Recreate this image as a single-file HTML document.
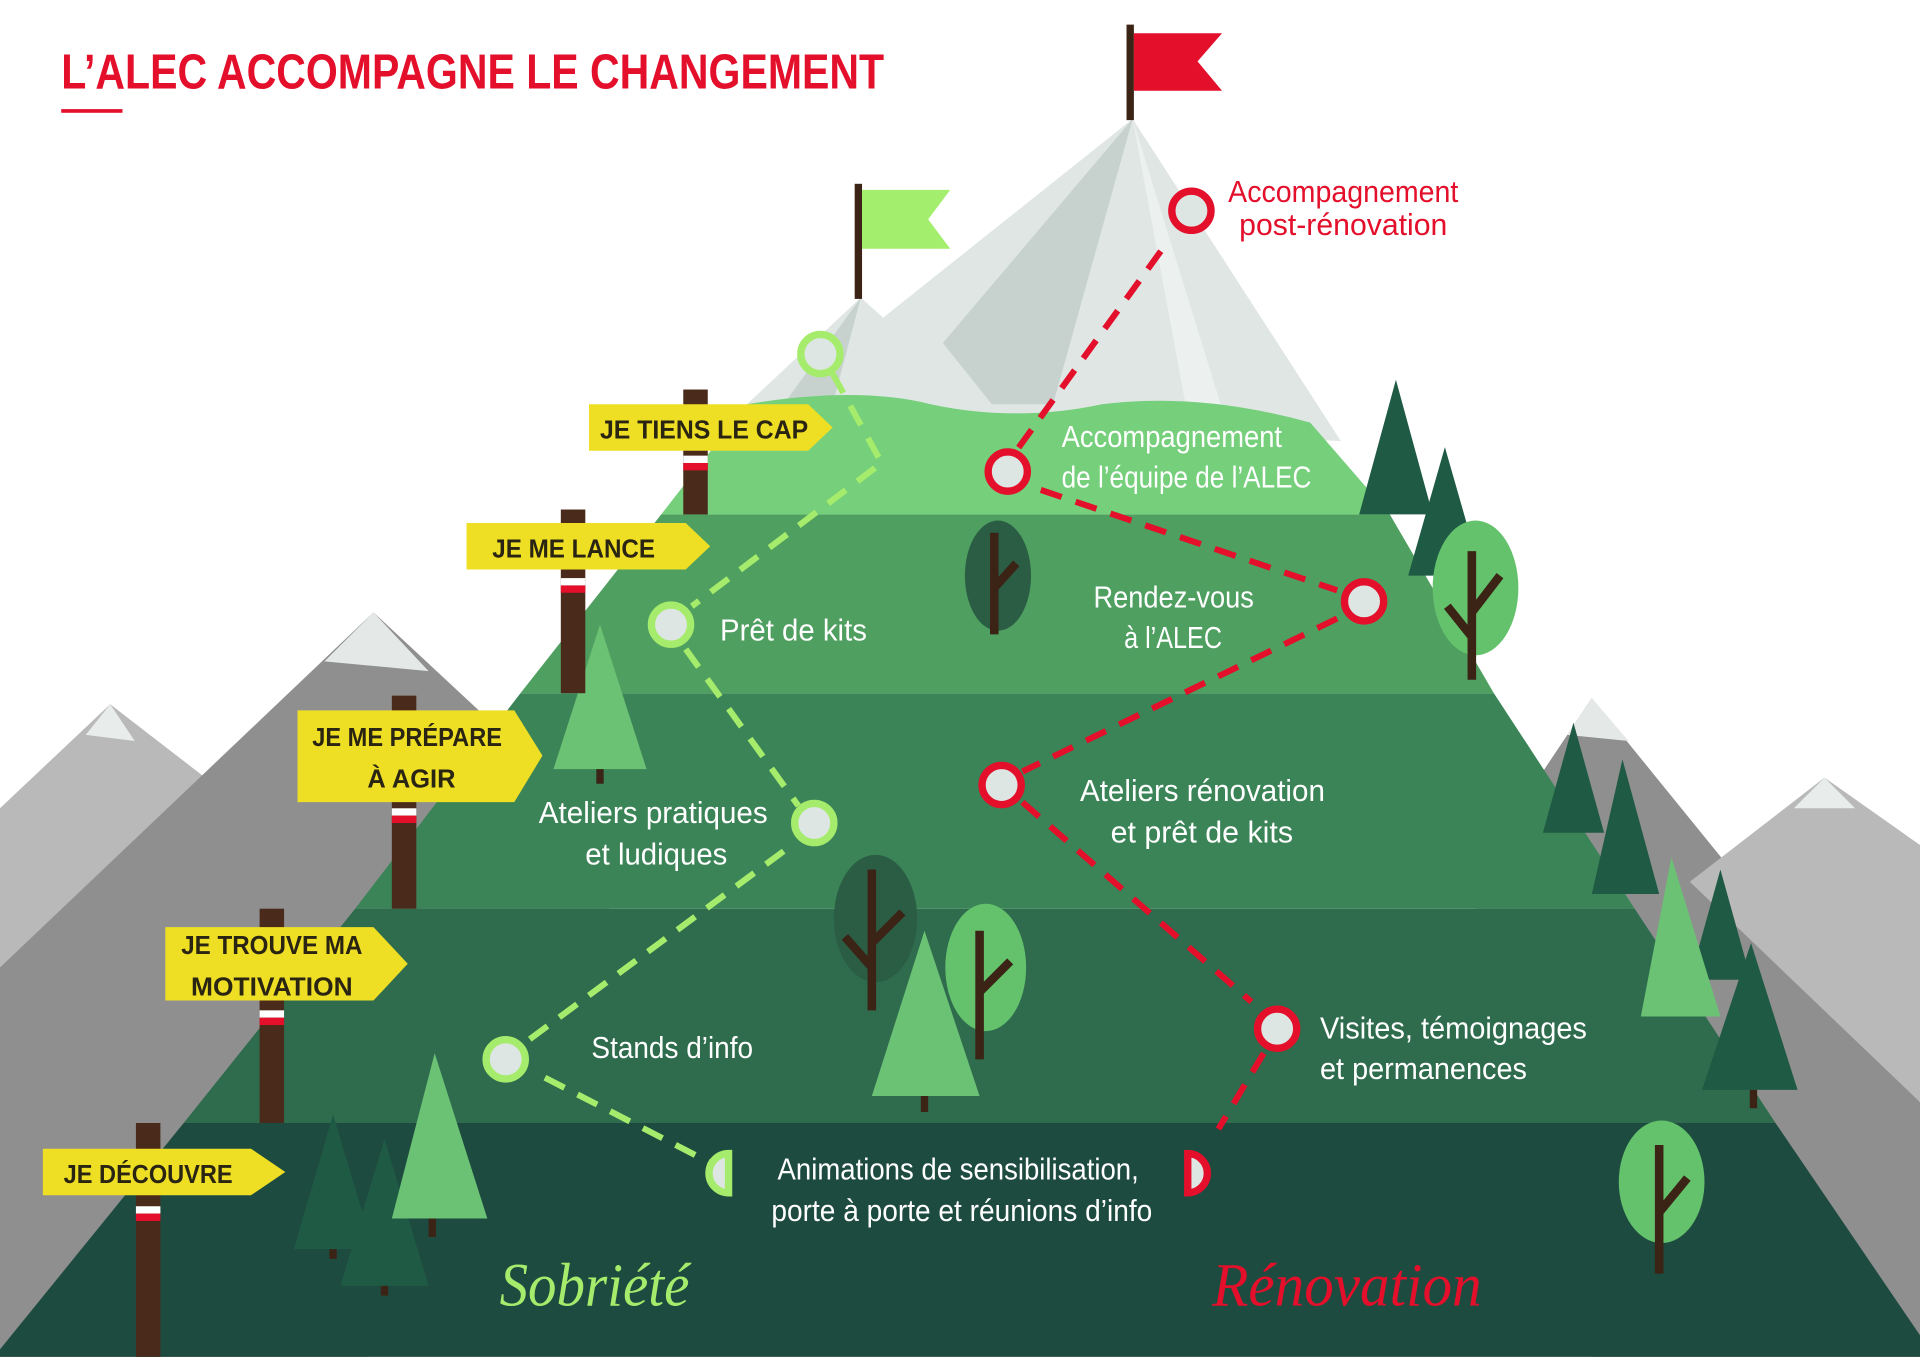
<!DOCTYPE html>
<html><head><meta charset="utf-8"><style>
html,body{margin:0;padding:0;background:#fff;}
svg{display:block}
.w{font-family:"Liberation Sans Narrow","Liberation Sans",sans-serif;fill:#fff;font-size:25px;}
.s{font-family:"Liberation Sans Narrow","Liberation Sans",sans-serif;font-weight:bold;fill:#2a2412;font-size:21px;}
</style></head><body>
<svg width="1920" height="1357" viewBox="0 0 1568 1108" xmlns="http://www.w3.org/2000/svg">
<rect width="1568" height="1108" fill="#fff"/>
<polygon points="0,660 90,575 200,660 0,900" fill="#b9b9b9"/>
<polygon points="90,575 70,600 110,605" fill="#e8eceb"/>
<polygon points="0,790 305,500 520,700 300,1108 0,1108" fill="#8f8f8f"/>
<polygon points="305,500 265,540 350,548" fill="#e4e9e8"/>
<polygon points="1200,720 1300,570 1568,900 1568,1108 1300,1108" fill="#8f8f8f"/>
<polygon points="1300,570 1280,600 1330,605" fill="#e4e9e8"/>
<polygon points="1380,720 1490,635 1568,690 1568,900" fill="#b9b9b9"/>
<polygon points="1490,635 1465,660 1515,660" fill="#e8eceb"/>
<polygon points="925,97 620,340 1095,360" fill="#dfe6e4"/>
<polygon points="925,97 770,280 810,330 860,330" fill="#c7d2cf"/>
<polygon points="925,97 970,340 1000,340" fill="#ecf0ef"/>
<polygon points="703,243 610,330 800,330" fill="#dfe6e4"/>
<polygon points="703,243 680,330 640,330" fill="#c7d2cf"/>
<polygon points="150,917 1450,917 1580,1108 -5,1108" fill="#1e4b3f"/>
<polygon points="290,742 1335,742 1450,917 150,917" fill="#2e6c4d"/>
<polygon points="425,566 1220,566 1335,742 290,742" fill="#3b8457"/>
<polygon points="540,420 1135,420 1220,566 425,566" fill="#4f9f60"/>
<path d="M540,420 L610,330 Q700,315 760,330 Q830,345 900,330 Q980,320 1070,345 L1135,420 Z" fill="#75cf7b"/>
<rect x="920" y="20" width="6" height="78" fill="#3b2415"/>
<polygon points="926,27 998,27 978,50 998,74 926,74" fill="#e30f2b"/>
<rect x="698" y="150" width="6" height="94" fill="#3b2415"/>
<polygon points="704,155 776,155 758,179 776,203 704,203" fill="#a3ee6c"/>
<g fill="#1f5a44"><polygon points="1140,310 1110,420 1170,420"/><polygon points="1180,365 1150,470 1210,470"/>
<polygon points="1285,590 1260,680 1310,680"/><polygon points="1325,620 1300,730 1355,730"/>
<polygon points="1405,710 1380,800 1430,800"/><polygon points="1430,770 1390,890 1468,890"/>
<polygon points="272,910 240,1020 305,1020"/><polygon points="314,930 278,1050 350,1050"/></g>
<g fill="#6bc274"><polygon points="490,510 452,628 528,628"/><polygon points="1365,700 1340,830 1405,830"/>
<polygon points="355,860 320,995 398,995"/><polygon points="755,760 712,895 800,895"/></g>
<g fill="#64c26c"><ellipse cx="1205" cy="480" rx="35" ry="55"/><ellipse cx="805" cy="790" rx="33" ry="52"/><ellipse cx="1357" cy="965" rx="35" ry="50"/></g>
<g fill="#2b5d45"><ellipse cx="815" cy="470" rx="27" ry="45"/><ellipse cx="715" cy="750" rx="34" ry="52"/></g>
<g stroke="#3b2415" stroke-width="7" fill="none"><path d="M1202,555 V450 M1202,500 L1225,470 M1202,520 L1182,495"/>
<path d="M800,865 V760 M800,810 L825,785"/><path d="M1355,1040 V935 M1355,990 L1378,962"/>
<path d="M812,518 V435 M812,480 L830,460"/><path d="M712,825 V710 M712,770 L737,745 M712,790 L690,765"/></g>
<g stroke="#3b2415" stroke-width="6"><path d="M490,628V640M1432,890V905M755,895V908M353,995V1010M314,1050V1058M272,1020V1028"/></g>
<g fill="#4a2b1b"><rect x="558" y="318" width="20" height="102"/><rect x="458" y="416" width="20" height="150"/>
<rect x="320" y="568" width="20" height="174"/><rect x="212" y="742" width="20" height="175"/><rect x="111" y="917" width="20" height="191"/></g>
<g><rect x="558" y="372" width="20" height="6" fill="#fff"/><rect x="558" y="378" width="20" height="6" fill="#e30f2b"/>
<rect x="458" y="472" width="20" height="6" fill="#fff"/><rect x="458" y="478" width="20" height="6" fill="#e30f2b"/>
<rect x="320" y="660" width="20" height="6" fill="#fff"/><rect x="320" y="666" width="20" height="6" fill="#e30f2b"/>
<rect x="212" y="825" width="20" height="6" fill="#fff"/><rect x="212" y="831" width="20" height="6" fill="#e30f2b"/>
<rect x="111" y="985" width="20" height="6" fill="#fff"/><rect x="111" y="991" width="20" height="6" fill="#e30f2b"/></g>
<g fill="#efdf24"><polygon points="481,330 660,330 680,349 660,368 481,368"/>
<polygon points="381,427 560,427 580,446 560,465 381,465"/>
<polygon points="243,580 420,580 443,617 420,655 243,655"/>
<polygon points="135,757 305,757 333,787 305,817 135,817"/>
<polygon points="35,938 205,938 233,957 205,976 35,976"/></g>
<text class="s" x="490" y="358" textLength="170" lengthAdjust="spacingAndGlyphs">JE TIENS LE CAP</text>
<text class="s" x="402" y="455" textLength="133" lengthAdjust="spacingAndGlyphs">JE ME LANCE</text>
<text class="s" x="255" y="609" textLength="155" lengthAdjust="spacingAndGlyphs">JE ME PRÉPARE</text>
<text class="s" x="300" y="643" textLength="72" lengthAdjust="spacingAndGlyphs">À AGIR</text>
<text class="s" x="148" y="779" textLength="148" lengthAdjust="spacingAndGlyphs">JE TROUVE MA</text>
<text class="s" x="156" y="813" textLength="132" lengthAdjust="spacingAndGlyphs">MOTIVATION</text>
<text class="s" x="52" y="966" textLength="138" lengthAdjust="spacingAndGlyphs">JE DÉCOUVRE</text>
<g stroke="#a6ec6c" stroke-width="5" stroke-dasharray="18,12" fill="none">
<path d="M680,305 L720,378 L565,495"/><path d="M560,530 L652,658"/><path d="M640,695 L428,852"/><path d="M445,880 L585,952"/></g>
<g stroke="#a6ec6c" stroke-width="6" fill="#dde6e3"><circle cx="670" cy="289" r="16"/><circle cx="548" cy="510" r="16"/><circle cx="665" cy="672" r="16"/><circle cx="413" cy="865" r="16"/></g>
<path d="M595,942 A16,16 0 0 0 595,974 Z" fill="#dde6e3" stroke="#a6ec6c" stroke-width="6"/>
<g stroke="#e30f2b" stroke-width="5" stroke-dasharray="18,12" fill="none">
<path d="M948,205 L830,368"/><path d="M850,400 L1092,482"/><path d="M1092,505 L835,630"/><path d="M835,655 L1022,818"/><path d="M1032,860 L995,922"/></g>
<g stroke="#e30f2b" stroke-width="6" fill="#dde6e3"><circle cx="973" cy="172" r="16"/><circle cx="823" cy="385" r="16"/><circle cx="1114" cy="491" r="16"/><circle cx="818" cy="641" r="16"/><circle cx="1043" cy="840" r="16"/></g>
<path d="M970,942 A16,16 0 0 1 970,974 Z" fill="#dde6e3" stroke="#e30f2b" stroke-width="6"/>
<g font-family="Liberation Sans Narrow,Liberation Sans,sans-serif" font-size="25" fill="#e30f2b"><text x="1003" y="165" textLength="188" lengthAdjust="spacingAndGlyphs">Accompagnement</text><text x="1012" y="192" textLength="170" lengthAdjust="spacingAndGlyphs">post-rénovation</text></g>
<text class="w" x="867" y="365" textLength="180" lengthAdjust="spacingAndGlyphs">Accompagnement</text><text class="w" x="867" y="398" textLength="204" lengthAdjust="spacingAndGlyphs">de l’équipe de l’ALEC</text>
<text class="w" x="893" y="496" textLength="131" lengthAdjust="spacingAndGlyphs">Rendez-vous</text><text class="w" x="918" y="529" textLength="80" lengthAdjust="spacingAndGlyphs">à l’ALEC</text>
<text class="w" x="588" y="523" textLength="120" lengthAdjust="spacingAndGlyphs">Prêt de kits</text>
<text class="w" x="882" y="654" textLength="200" lengthAdjust="spacingAndGlyphs">Ateliers rénovation</text><text class="w" x="907" y="688" textLength="149" lengthAdjust="spacingAndGlyphs">et prêt de kits</text>
<text class="w" x="440" y="672" textLength="187" lengthAdjust="spacingAndGlyphs">Ateliers pratiques</text><text class="w" x="478" y="706" textLength="116" lengthAdjust="spacingAndGlyphs">et ludiques</text>
<text class="w" x="483" y="864" textLength="132" lengthAdjust="spacingAndGlyphs">Stands d’info</text>
<text class="w" x="1078" y="848" textLength="218" lengthAdjust="spacingAndGlyphs">Visites, témoignages</text><text class="w" x="1078" y="881" textLength="169" lengthAdjust="spacingAndGlyphs">et permanences</text>
<text class="w" x="635" y="963" textLength="295" lengthAdjust="spacingAndGlyphs">Animations de sensibilisation,</text><text class="w" x="630" y="997" textLength="311" lengthAdjust="spacingAndGlyphs">porte à porte et réunions d’info</text>
<text x="408" y="1066" font-family="Liberation Serif,serif" font-style="italic" font-size="50" fill="#a6ec6c" textLength="155" lengthAdjust="spacingAndGlyphs">Sobriété</text>
<text x="990" y="1066" font-family="Liberation Serif,serif" font-style="italic" font-size="50" fill="#e30f2b" textLength="220" lengthAdjust="spacingAndGlyphs">Rénovation</text>
<text x="50" y="72" font-family="Liberation Sans Narrow,Liberation Sans,sans-serif" font-weight="bold" font-size="40" fill="#e30f2b" textLength="672" lengthAdjust="spacingAndGlyphs">L’ALEC ACCOMPAGNE LE CHANGEMENT</text>
<rect x="50" y="89" width="50" height="3" fill="#e30f2b"/>
</svg>
</body></html>
